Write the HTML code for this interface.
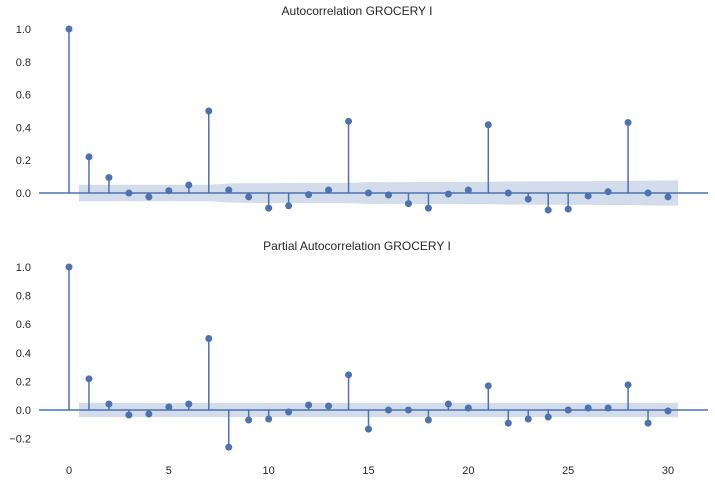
<!DOCTYPE html>
<html><head><meta charset="utf-8"><style>
body{margin:0;background:#fff;}
svg{display:block;font-family:"Liberation Sans","DejaVu Sans",sans-serif;}
</style></head><body>
<svg id="chart" width="715" height="482"></svg>
<script>
const lags = Array.from({length:31},(_,i)=>i);
const acfValues = [1.0,0.22,0.094,0.0,-0.024,0.014,0.049,0.50,0.018,-0.024,-0.092,-0.078,-0.01,0.018,0.437,0.0,-0.012,-0.065,-0.092,-0.006,0.018,0.416,0.0,-0.037,-0.104,-0.098,-0.018,0.008,0.43,0.0,-0.024];
const acfBand = [0.05,0.05,0.05,0.05,0.05,0.05,0.05,0.05,0.058,0.06,0.06,0.061,0.062,0.062,0.062,0.066,0.066,0.066,0.067,0.067,0.068,0.068,0.071,0.071,0.072,0.072,0.072,0.073,0.073,0.076,0.077];
const pacfValues = [1.0,0.218,0.042,-0.035,-0.028,0.021,0.042,0.50,-0.26,-0.07,-0.063,-0.014,0.035,0.028,0.246,-0.134,0.0,0.0,-0.07,0.042,0.014,0.169,-0.092,-0.063,-0.049,0.0,0.014,0.014,0.176,-0.092,-0.007];
const pacfBand = 0.05;
const acfTicks = [0.0,0.2,0.4,0.6,0.8,1.0];
const pacfTicks = [-0.2,0.0,0.2,0.4,0.6,0.8,1.0];
const xTicks = [0,5,10,15,20,25,30];

const NS='http://www.w3.org/2000/svg';
const svg=document.getElementById('chart');
const C='#4c72b0';
const x=v=>69+v*19.967;
function mk(tag,attrs,parent){const e=document.createElementNS(NS,tag);for(const k in attrs)e.setAttribute(k,attrs[k]);(parent||svg).appendChild(e);return e;}

function panel(name,title,titleY,y0,scale,vals,band,ticks){
  const g=mk('g',{});
  
  
  const y=v=>y0-v*scale;
  const t=mk('text',{x:357,y:titleY,'text-anchor':'middle','font-size':12,fill:'#262626'},g);
  t.textContent=title;
  
  
  let up='',lo='';
  for(let i=1;i<lags.length;i++){
    const b=Array.isArray(band)?band[i]:band;
    const xa=x(0.5), xb=x(30.5);
    up+=`${x(lags[i])},${y(b)} `; lo=`${x(lags[i])},${y(-b)} `+lo;
    if(i===1){up=`${xa},${y(b)} `+up;lo=lo+`${xa},${y(-b)} `;}
    if(i===lags.length-1){up+=`${xb},${y(b)} `;lo=`${xb},${y(-b)} `+lo;}
  }
  const bp=mk('polygon',{points:up+lo,fill:'#4c72b0','fill-opacity':0.25,stroke:'none'},g);
  
  
  const al=mk('line',{x1:39,x2:708,y1:y(0),y2:y(0),stroke:C,'stroke-width':1.5},g);
  
  
  ticks.forEach(tv=>{
    const tt=mk('text',{x:31,y:y(tv)+4,'text-anchor':'end','font-size':11,fill:'#262626'},g);
    tt.textContent=tv<0?'\u2212'+Math.abs(tv).toFixed(1):tv.toFixed(1);
    
    
  });
  lags.forEach((l,i)=>{
    const s=mk('line',{x1:x(l),x2:x(l),y1:y(0),y2:y(vals[i]),stroke:C,'stroke-width':1.5},g);
    
    
    const c=mk('circle',{cx:x(l),cy:y(vals[i]),r:3.5,fill:C},g);
    
    
  });
}
panel('acf-panel','Autocorrelation GROCERY I',15,193,164,acfValues,acfBand,acfTicks);
panel('pacf-panel','Partial Autocorrelation GROCERY I',250,410,143,pacfValues,pacfBand,pacfTicks);
xTicks.forEach(v=>{
  const t=mk('text',{x:x(v),y:474,'text-anchor':'middle','font-size':11,fill:'#262626'});
  t.textContent=v;
  
  
});
</script>
</body></html>
